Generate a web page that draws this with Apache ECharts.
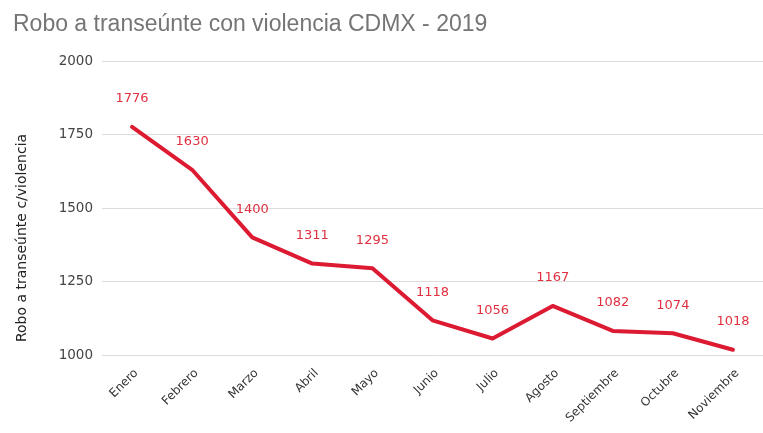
<!DOCTYPE html>
<html><head><meta charset="utf-8">
<script src="https://cdn.jsdelivr.net/npm/echarts@6/dist/echarts.min.js"></script>
<style>html,body{margin:0;padding:0;background:#fff}#c{width:763px;height:433px}</style>
</head><body><div id="c"></div>
<script>
const months = ["Enero","Febrero","Marzo","Abril","Mayo","Junio","Julio","Agosto","Septiembre","Octubre","Noviembre"];
const robos = [1776,1630,1400,1311,1295,1118,1056,1167,1082,1074,1018];
const yTicks = [1000,1250,1500,1750,2000];
const title = "Robo a transeúnte con violencia CDMX - 2019";
const yName = "Robo a transeúnte c/violencia";

const F = 'Liberation Sans, Arial, sans-serif';
const D = 'DejaVu Sans, sans-serif';
const chart = echarts.init(document.getElementById('c'), null, {renderer:'canvas'});
chart.setOption({
  animation:false,
  title:{text:title,left:8,top:8,textStyle:{fontFamily:F,fontWeight:'normal',fontSize:23,color:'#757575'}},
  grid:{left:102,right:-5,top:61,bottom:78},
  xAxis:{type:'category',data:months,boundaryGap:true,
    axisLine:{show:false},axisTick:{show:false},
    axisLabel:{rotate:45,fontFamily:D,fontSize:12,color:'#333',margin:12,interval:0,verticalAlign:'top'}},
  yAxis:{type:'value',min:yTicks[0],max:yTicks[yTicks.length-1],interval:250,
    name:yName,nameLocation:'middle',nameGap:73,nameRotate:90,
    nameTextStyle:{fontFamily:D,fontSize:14,color:'#222',padding:[0,60,0,0]},
    axisLine:{show:false},axisTick:{show:false},
    axisLabel:{fontFamily:D,fontSize:13.5,color:'#444',margin:9,formatter:v=>String(v)},
    splitLine:{lineStyle:{color:'#dcdcdc',width:1}}},
  series:[{type:'line',data:robos,smooth:false,showSymbol:true,symbol:'circle',symbolSize:1,
    itemStyle:{color:'#dc1a32',opacity:0},
    lineStyle:{color:'#dc1a32',width:4,join:'round',cap:'round'},
    label:{show:true,position:'top',distance:21,fontFamily:D,fontSize:13,color:'#e0303f',opacity:1}}]
});
</script></body></html>
